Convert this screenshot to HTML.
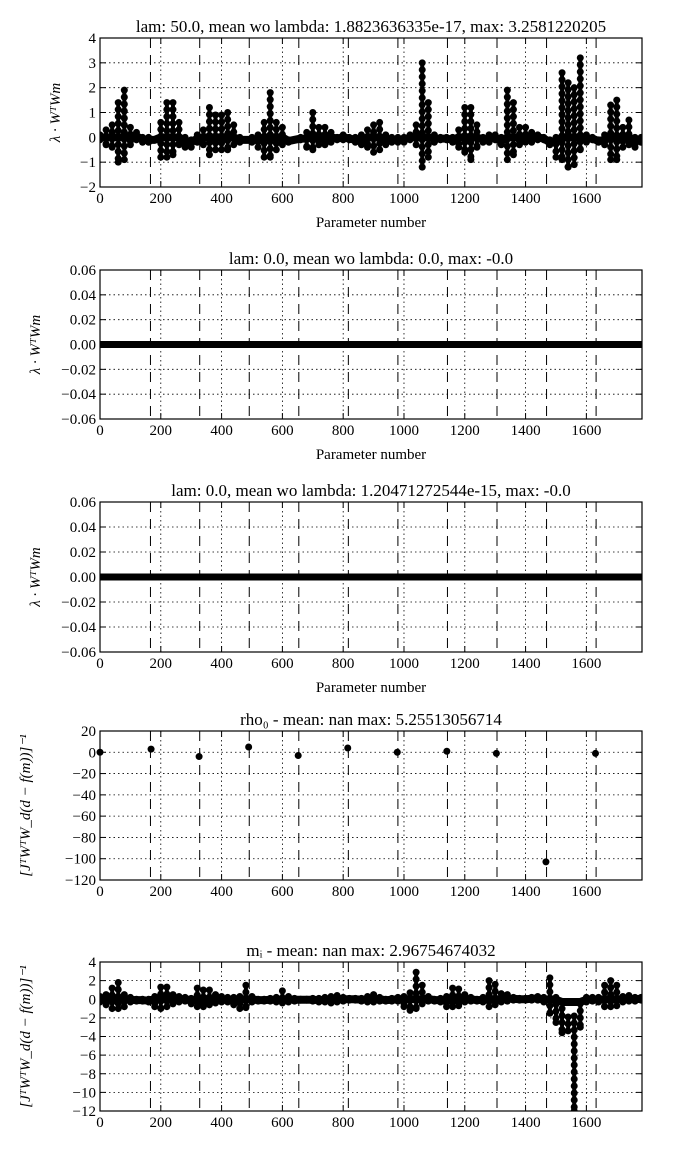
<!DOCTYPE html>
<html><head><meta charset="utf-8">
<style>
body{margin:0;background:#fff;}
svg{display:block;font-family:"Liberation Serif",serif;}
</style></head>
<body>
<svg id="c" width="700" height="1150" xmlns="http://www.w3.org/2000/svg"></svg>
<script>
const xTicks=[0,200,400,600,800,1000,1200,1400,1600];
const boundaries=[166,328,491,654,817,980,1143,1306,1469,1632];
const sampleX=[];for(let i=0;i<=1780;i+=20)sampleX.push(i);
const p1Upper=[0.1,0.3,0.5,1.4,1.9,0.4,0.2,0,0,-0.1,0.6,1.4,1.4,0.6,0,-0.1,0.1,0.3,1.2,0.9,0.9,1.0,0.5,0,-0.1,0,0.1,0.6,1.8,0.6,0.4,-0.1,-0.1,0,0.2,1.0,0.4,0.4,0.2,0,0.1,0,0,0.1,0.3,0.5,0.6,0.1,0,0,0,0.1,0.5,3.0,1.4,0.1,0,0,0,0.3,1.2,1.2,0.5,0,0.1,0.1,0,1.9,1.4,0.4,0.4,0.2,0.1,0,-0.1,0,2.6,2.2,2.0,3.2,0.1,0,-0.1,0.1,1.3,1.5,0.4,0.7,0,0];
const p1Lower=[-0.1,-0.3,-0.4,-1.0,-0.9,-0.3,-0.1,-0.2,-0.2,-0.1,-0.8,-0.8,-0.7,-0.3,-0.4,-0.4,-0.2,-0.3,-0.7,-0.5,-0.5,-0.5,-0.3,-0.2,-0.1,-0.2,-0.4,-0.8,-0.8,-0.5,-0.3,-0.2,-0.1,-0.1,-0.4,-0.5,-0.3,-0.3,-0.2,-0.1,-0.1,-0.1,-0.2,-0.3,-0.4,-0.6,-0.5,-0.3,-0.2,-0.2,-0.2,-0.1,-0.3,-1.2,-0.8,-0.2,-0.1,-0.1,-0.2,-0.4,-0.6,-0.9,-0.4,-0.2,-0.2,-0.1,-0.3,-0.9,-0.7,-0.3,-0.2,-0.2,-0.1,-0.1,-0.3,-0.8,-0.9,-1.2,-1.1,-0.5,-0.2,-0.1,-0.2,-0.3,-0.9,-0.9,-0.4,-0.3,-0.4,-0.2];
const p5Upper=[0.3,0.5,1.2,1.8,0.5,0.2,0,0,0,0.3,1.3,1.3,0.5,0.3,0.2,0.1,1.2,1.0,1.0,0.5,0.3,0.2,0.2,0.3,1.5,0.3,0,0,0.1,0.2,0.9,0.3,0.1,0,0,0.1,0.1,0.2,0.3,0.4,0.2,0.1,0.1,0.1,0.3,0.5,0.2,0,0.1,0.2,0.3,0.7,2.9,1.5,0.3,0,0.1,0.3,1.2,1.1,0.5,0.2,0,0.2,2.0,1.6,0.6,0.5,0.2,0.1,0.1,0.2,0.3,0.2,2.3,0.2,-1.0,-1.9,-1.8,-0.5,0.2,0.2,0.2,1.5,2.0,1.5,0.3,0.4,0.2,0.2];
const p5Lower=[-0.3,-0.6,-1.0,-1.0,-0.8,-0.3,-0.2,-0.2,-0.3,-0.8,-1.0,-0.8,-0.5,-0.3,-0.2,-0.5,-0.8,-0.8,-0.6,-0.4,-0.3,-0.3,-0.6,-1.0,-0.9,-0.3,-0.2,-0.2,-0.2,-0.3,-0.4,-0.3,-0.2,-0.1,-0.1,-0.2,-0.3,-0.3,-0.4,-0.3,-0.2,-0.1,-0.1,-0.2,-0.3,-0.3,-0.2,-0.2,-0.2,-0.2,-0.8,-1.2,-1.0,-0.5,-0.2,-0.2,-0.3,-0.8,-0.8,-0.7,-0.3,-0.2,-0.2,-0.3,-0.8,-0.6,-0.3,-0.2,-0.1,-0.1,-0.1,-0.1,-0.1,-0.3,-1.5,-2.5,-3.6,-3.4,-12,-3,-0.3,-0.2,-0.3,-0.8,-0.8,-0.7,-0.3,-0.2,-0.2,-0.1];
const p4X=[0,168,326,489,652,815,978,1141,1304,1467,1630];
const p4Y=[0,3,-4,5,-3,4,0,1,-1,-103,-1];
const flatX=[0,1783];
const flatY=[0,0];

const NS="http://www.w3.org/2000/svg";
const svg=document.getElementById('c');
function mk(tag,attrs,parent){const e=document.createElementNS(NS,tag);for(const k in attrs)e.setAttribute(k,attrs[k]);(parent||svg).appendChild(e);return e;}
const L=100,R=642,XMAX=1783;
const sx=v=>L+v*(R-L)/XMAX;

function panel(id,top,bot,ymin,ymax,yTicks,fmt,title,ylabel,xlabel){
  const g=mk('g',{});
  
  
  const sy=v=>bot-(v-ymin)*(bot-top)/(ymax-ymin);
  xTicks.forEach(t=>{const l=mk('line',{x1:sx(t),x2:sx(t),y1:top,y2:bot,stroke:'#000','stroke-width':0.8,'stroke-dasharray':'1.5,3'},g);
    });
  yTicks.forEach(t=>{const l=mk('line',{x1:L,x2:R,y1:sy(t),y2:sy(t),stroke:'#000','stroke-width':0.8,'stroke-dasharray':'1.5,3'},g);
    });
  boundaries.forEach(b=>{const l=mk('line',{x1:sx(b),x2:sx(b),y1:top,y2:bot,stroke:'#000','stroke-width':1,'stroke-dasharray':'10,7'},g);
    });
  xTicks.forEach(t=>{
    mk('line',{x1:sx(t),x2:sx(t),y1:bot,y2:bot-6,stroke:'#000'},g);
    mk('line',{x1:sx(t),x2:sx(t),y1:top,y2:top+6,stroke:'#000'},g);
    const tx=mk('text',{x:sx(t),y:bot+16,'text-anchor':'middle','font-size':15},g);tx.textContent=t;
    
  });
  yTicks.forEach(t=>{
    mk('line',{x1:L,x2:L+6,y1:sy(t),y2:sy(t),stroke:'#000'},g);
    mk('line',{x1:R,x2:R-6,y1:sy(t),y2:sy(t),stroke:'#000'},g);
    const tx=mk('text',{x:L-4,y:sy(t)+5,'text-anchor':'end','font-size':15},g);tx.textContent=fmt(t).replace('-','\u2212');
    
  });
  const tt=mk('text',{x:(L+R)/2,y:top-6,'text-anchor':'middle','font-size':17},g);tt.textContent=title;
  
  const yl=mk('text',{x:0,y:0,'text-anchor':'middle','font-size':15,'font-style':'italic',transform:`translate(${ylabel[1]},${(top+bot)/2}) rotate(-90)`},g);yl.textContent=ylabel[0];
  
  if(xlabel){const xl=mk('text',{x:(L+R)/2,y:bot+40,'text-anchor':'middle','font-size':15},g);xl.textContent=xlabel;
    }
  return {g,sy,top,bot};
}
function spikes(p,xs,up,lo){
  const clip='clip'+p.top;
  const cp=mk('clipPath',{id:clip},p.g);mk('rect',{x:L,y:p.top,width:R-L,height:p.bot-p.top},cp);
  const s=p.g.appendChild(document.createElementNS(NS,'g'));s.setAttribute('clip-path',`url(#${clip})`);
  // baseline through mid values
  const mid=xs.map((x,i)=>{const a=Math.max(Math.min(up[i],0.3),-0.3),b=Math.max(Math.min(lo[i],0.3),-0.3);return (a+b)/2;});
  const base=mk('polyline',{points:xs.map((x,i)=>sx(x)+','+p.sy(mid[i])).join(' '),fill:'none',stroke:'#000','stroke-width':8,'stroke-linejoin':'round','stroke-linecap':'round'},s);
  
  xs.forEach((x,i)=>{
    const l=mk('line',{x1:sx(x),x2:sx(x),y1:p.sy(up[i]),y2:p.sy(lo[i]),stroke:'#000','stroke-width':4},s);
    
    const y1=p.sy(up[i]),y2=p.sy(lo[i]);
    for(let y=y1;y<=y2;y+=7){const c=mk('circle',{cx:sx(x),cy:y,r:3.5,fill:'#000'},s);
      }
    const c=mk('circle',{cx:sx(x),cy:y2,r:3.5,fill:'#000'},s);
    
  });
}
function frame(p){const r=mk('rect',{x:L,y:p.top,width:R-L,height:p.bot-p.top,fill:'none',stroke:'#000','stroke-width':1.2},p.g);
  }
const f0=v=>String(v), f2=v=>v.toFixed(2);

let p=panel('panel-lambda-50',38,187,-2,4,[-2,-1,0,1,2,3,4],f0,'lam: 50.0, mean wo lambda: 1.8823636335e-17, max: 3.2581220205',['λ · WᵀWm',60],'Parameter number');
spikes(p,sampleX,p1Upper,p1Lower);frame(p);

[[270,419,'lam: 0.0, mean wo lambda: 0.0, max: -0.0','panel-lambda-0-a'],[502,652,'lam: 0.0, mean wo lambda: 1.20471272544e-15, max: -0.0','panel-lambda-0-b']].forEach(a=>{
  const q=panel(a[3],a[0],a[1],-0.06,0.06,[-0.06,-0.04,-0.02,0,0.02,0.04,0.06],f2,a[2],['λ · WᵀWm',40],'Parameter number');
  const l=mk('line',{x1:sx(flatX[0]),x2:sx(flatX[1]),y1:q.sy(flatY[0]),y2:q.sy(flatY[1]),stroke:'#000','stroke-width':7},q.g);
  frame(q);
});

p=panel('panel-rho0',731,880,-120,20,[-120,-100,-80,-60,-40,-20,0,20],f0,'rho₀ - mean: nan max: 5.25513056714',['[JᵀWᵀW_d(d − f(m))]⁻¹',30],null);
p4X.forEach((x,i)=>{const c=mk('circle',{cx:sx(x),cy:p.sy(p4Y[i]),r:3.5,fill:'#000'},p.g);
  });
frame(p);

p=panel('panel-mi',962,1111,-12,4,[-12,-10,-8,-6,-4,-2,0,2,4],f0,'mᵢ - mean: nan max: 2.96754674032',['[JᵀWᵀW_d(d − f(m))]⁻¹',30],null);
spikes(p,sampleX,p5Upper,p5Lower);frame(p);
</script>
</body></html>
